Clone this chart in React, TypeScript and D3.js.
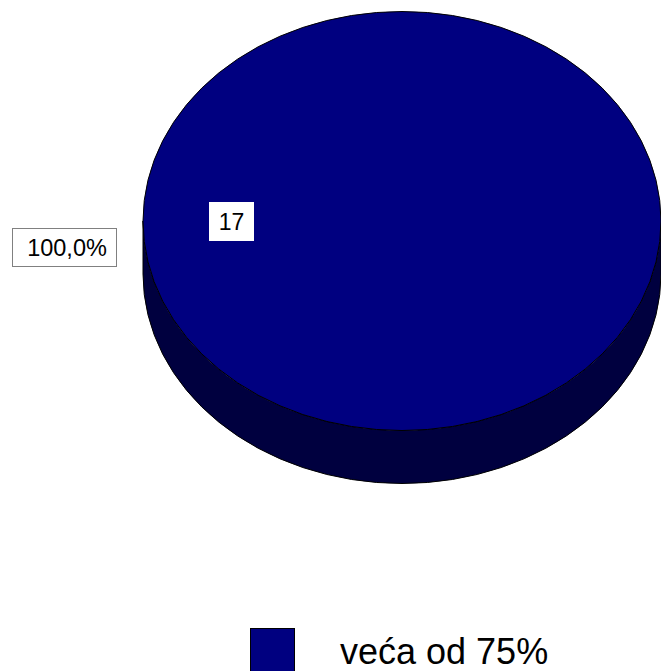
import React, { useEffect, useRef } from 'react';
import * as d3 from 'd3';

const categories = ['veća od 75%'];
const counts = [17];
const colors = ['#000080'];
const sideColors = ['#00003f'];

const W = 661;
const H = 671;

const App = () => {
  const svgRef = useRef<SVGSVGElement | null>(null);

  useEffect(() => {
    const svg = d3.select(svgRef.current);
    svg.selectAll('*').remove();

    const cx = 402;
    const cy = 221;
    const rx = 259;
    const ry = 209.5;
    const depth = 53;

    const total = d3.sum(counts);
    const pie = d3.pie<number>().sort(null).startAngle(0).endAngle(2 * Math.PI);
    const slices = pie(counts);
    const fmt = (v: number) => d3.format('.1f')((v / total) * 100).replace('.', ',') + '%';

    const g = svg.append('g');

    // side wall (front half of the cylinder), drawn as quarter arcs
    slices.forEach((s, i) => {
      const b = cy + depth;
      const side = [
        `M${cx - rx},${cy}`,
        `A${rx},${ry} 0 0 0 ${cx},${cy + ry}`,
        `A${rx},${ry} 0 0 0 ${cx + rx},${cy}`,
        `L${cx + rx},${b}`,
        `A${rx},${ry} 0 0 1 ${cx},${b + ry}`,
        `A${rx},${ry} 0 0 1 ${cx - rx},${b}`,
        'Z',
      ].join(' ');
      g.append('path')
        .attr('d', side)
        .attr('fill', sideColors[i])
        .attr('stroke', '#000')
        .attr('stroke-width', 1)
        .attr('stroke-linejoin', 'round');
    });

    // top face
    const arc = d3.arc<d3.PieArcDatum<number>>().innerRadius(0).outerRadius(rx);
    g.append('g')
      .attr('transform', `translate(${cx},${cy}) scale(1,${ry / rx})`)
      .selectAll('path')
      .data(slices)
      .join('path')
      .attr('d', d => arc(d) as string)
      .attr('fill', (d, i) => colors[i])
      .attr('stroke', '#000')
      .attr('stroke-width', 1)
      .attr('vector-effect', 'non-scaling-stroke');

    // value label
    const vl = g.append('g').attr('transform', 'translate(209,202)');
    vl.append('rect').attr('width', 45).attr('height', 39).attr('fill', '#fff');
    vl.append('text')
      .attr('x', 22.5).attr('y', 28)
      .attr('text-anchor', 'middle')
      .style('font-family', 'Liberation Sans, Arial, sans-serif')
      .style('font-size', '23px')
      .text(String(counts[0]));

    // percent label
    const pl = g.append('g').attr('transform', 'translate(12,228)');
    pl.append('rect').attr('x', 0.5).attr('y', 0.5).attr('width', 104).attr('height', 38)
      .attr('fill', '#fff').attr('stroke', '#808080').attr('stroke-width', 1);
    pl.append('text')
      .attr('x', 55).attr('y', 28)
      .attr('text-anchor', 'middle')
      .style('font-family', 'Liberation Sans, Arial, sans-serif')
      .style('font-size', '23.5px')
      .text(fmt(counts[0]));

    // legend
    const lg = svg.append('g').attr('transform', 'translate(250,628)');
    categories.forEach((c, i) => {
      const item = lg.append('g').attr('transform', `translate(0,${i * 50})`);
      item.append('rect').attr('x', 0.5).attr('y', 0.5).attr('width', 44).attr('height', 45)
        .attr('fill', colors[i]).attr('stroke', '#000').attr('stroke-width', 1);
      item.append('text')
        .attr('x', 90).attr('y', 36)
        .style('font-family', 'Liberation Sans, Arial, sans-serif')
        .style('font-size', '36px')
        .text(c);
    });
  }, []);

  return (
    <svg
      ref={svgRef}
      width={W}
      height={H}
      style={{ position: 'absolute', left: 0, top: 0, background: '#fff' }}
    />
  );
};

export default App;
